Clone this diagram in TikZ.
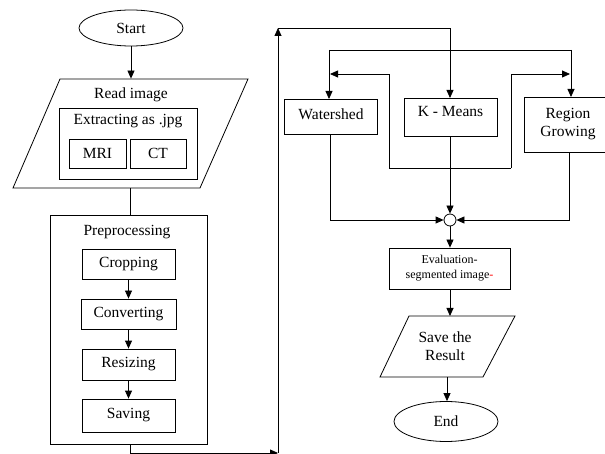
\documentclass[tikz,border=0pt]{standalone}
\usepackage{fontspec}
\setmainfont{Liberation Serif}
\usetikzlibrary{arrows.meta,shapes.geometric}
\begin{document}
\begin{tikzpicture}[x=1pt,y=-1pt,
  line width=0.8pt,
  arr/.style={-{Triangle[length=8pt,width=7pt]}},
  box/.style={draw,rectangle,inner sep=0pt},
  ghost/.style={rectangle,inner sep=0pt},
  oval/.style={draw,ellipse,inner sep=0pt},
  txt/.style={inner sep=0pt,align=center,font=\fontsize{15.5}{18}\selectfont},
  smalltxt/.style={inner sep=0pt,align=center,font=\fontsize{12}{15}\selectfont}]
\useasboundingbox (0,0) rectangle (605,454);

% left column
\node[oval,minimum width=104pt,minimum height=36pt,txt] (start) at (131,28) {Start};
\draw (60,79) -- (248,79) -- (200,188) -- (13,188) -- cycle;
\node[ghost,minimum width=188pt,minimum height=109pt] (read) at (130.5,133.5) {};
\node[txt] (readt) at (131,95) {Read image};
\node[box,minimum width=138pt,minimum height=71pt] (extract) at (128,143.5) {};
\node[txt] (extractt) at (128,121) {Extracting as .jpg};
\node[box,minimum width=57pt,minimum height=29pt,txt] (mri) at (97.5,153.5) {MRI};
\node[box,minimum width=56pt,minimum height=29pt,txt] (ct) at (158,153.5) {CT};

\node[box,minimum width=157pt,minimum height=229pt] (pre) at (128.5,329.5) {};
\node[txt] (pret) at (127,232) {Preprocessing};
\node[box,minimum width=93pt,minimum height=30pt,txt] (crop) at (128.5,264) {Cropping};
\node[box,minimum width=95pt,minimum height=30pt,txt] (conv) at (128.5,314) {Converting};
\node[box,minimum width=93pt,minimum height=31pt,txt] (resz) at (128.5,364.5) {Resizing};
\node[box,minimum width=93pt,minimum height=33pt,txt] (savg) at (128.5,415.5) {Saving};

\draw[arr] (start) -- (start.south |- read.north);
\draw (read.south -| 130,0) -- (130,215);
\draw[arr] (crop) -- (conv);
\draw[arr] (conv) -- (resz);
\draw[arr] (resz) -- (savg);

% right column
\node[box,minimum width=93pt,minimum height=35pt] (ws) at (331,116.5) {};
\node[txt] (wst) at (331,114) {Watershed};
\node[box,minimum width=93pt,minimum height=38pt] (km) at (450.5,117) {};
\node[txt] (kmt) at (450.5,112) {K - Means};
\node[box,minimum width=88pt,minimum height=55pt,txt] (rg) at (568,124.5) {Region\\Growing};

\coordinate (c1) at (278,453);
\coordinate (c2) at (278,28);
\draw[arr] (pre.south -| 130,0) |- (c1);
\draw[arr] (c1) -- (c2);
\draw[arr] (c2) -| (450,98);

\coordinate (d1) at (329,50);
\coordinate (d2) at (571,50);
\draw (d1) -- (d2);
\draw[arr] (d1) -- (329,99);
\draw[arr] (d2) -- (571,97);

\coordinate (l1) at (389,168);
\coordinate (l2) at (511,168);
\draw[arr] (l1) |- (330,74);
\draw (l1) -- (l2);
\draw[arr] (l2) |- (570,74);

\node[draw,circle,minimum size=12pt,inner sep=0pt] (circ) at (450,220) {};
\draw[arr] (ws.south -| 330,0) |- (circ.west);
\draw[arr] (km.south -| 450,0) -- (circ.north);
\draw[arr] (rg.south -| 569,0) |- (circ.east);

\node[box,minimum width=121pt,minimum height=41pt,smalltxt] (eval) at (449.5,268.5) {Evaluation-\\segmented image\textcolor{red}{-}};
\draw[arr] (circ.south) -- (circ.south |- eval.north);

\draw (409,316) -- (515,316) -- (483,377) -- (380,377) -- cycle;
\node[ghost,minimum width=103pt,minimum height=61pt] (savep) at (447.5,346.5) {};
\node[txt] (savet) at (445,346) {Save the\\Result};
\draw[arr] (eval.south -| 450,0) -- (450,316);

\node[oval,minimum width=104pt,minimum height=40pt,txt] (end) at (446,421.5) {End};
\draw[arr] (savep.south -| 447,0) -- (end.north -| 447,0);
\end{tikzpicture}
\end{document}
